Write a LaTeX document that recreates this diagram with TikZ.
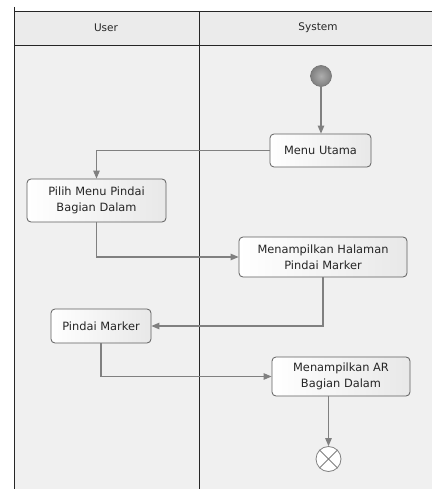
\documentclass[tikz,border=0pt]{standalone}
\usepackage{fontspec}
\setmainfont{DejaVu Sans}
\usetikzlibrary{arrows.meta,calc,positioning}
\definecolor{lanebg}{HTML}{F0F0F0}
\definecolor{headbg}{HTML}{EBEBEB}
\definecolor{linegray}{HTML}{808080}
\definecolor{boxedge}{HTML}{5E5E5E}
\definecolor{txt}{HTML}{262626}
\tikzset{
  action/.style={draw=boxedge, line width=0.8pt, rounded corners=4pt,
    left color=white, right color=black!9, align=center, text=txt,
    font=\fontsize{11.4}{16}\selectfont, inner sep=0pt, anchor=center},
  flow/.style={draw=linegray, line width=1.1pt,
    -{Triangle[length=8pt,width=6.5pt,fill=linegray]}},
  lanetitle/.style={text=txt, font=\fontsize{10.5}{12}\selectfont},
  border/.style={draw=black!85, line width=0.9pt}
}
\begin{document}
\begin{tikzpicture}[x=1pt,y=-1pt]
\useasboundingbox (0,0) rectangle (432,489);
\fill[white] (0,0) rectangle (432,489);
% lanes
\fill[lanebg] (14,11) rectangle (432,489);
\fill[headbg] (14,11) rectangle (432,45);
\draw[border] (14,7) -- (14,489);
\draw[border] (14,11) -- (432,11);
\draw[border] (14,45) -- (432,45);
\draw[border] (199,11) -- (199,489);
\node[lanetitle] (user) at (106,28) {User};
\node[lanetitle] (sys) at (318,28) {System};
% nodes
\node[circle, draw=black!55, inner color=black!32, outer color=black!50, line width=0.6pt, minimum size=21pt, inner sep=0pt] (start) at (321,76) {};
\node[action, minimum width=101pt, minimum height=33pt] (mu) at (320.5,150.5) {Menu Utama};
\node[action, minimum width=139pt, minimum height=43pt] (pilih) at (96.5,200.5) {Pilih Menu Pindai\\Bagian Dalam};
\node[action, minimum width=168pt, minimum height=40pt] (hal) at (323,257) {Menampilkan Halaman\\Pindai Marker};
\node[action, minimum width=100pt, minimum height=34pt] (pindai) at (101,326) {Pindai Marker};
\node[action, minimum width=138pt, minimum height=39pt] (ar) at (341,376.5) {Menampilkan AR\\Bagian Dalam};
\node[circle, draw=black!50, fill=white, line width=0.8pt, minimum size=25pt, inner sep=0pt] (end) at (328.5,459) {};
\draw[black!50, line width=0.8pt] (end.north west) -- (end.south east) (end.north east) -- (end.south west);
% connectors
\draw[flow] (start) -- (start |- mu.north);
\draw[flow] (mu.west) -| (pilih.north);
\draw[flow] (pilih.south) |- (hal.west);
\draw[flow] (hal.south) |- (pindai.east);
\draw[flow] (pindai.south) |- (ar.west);
\draw[flow] (end.north |- ar.south) -- (end.north);
\end{tikzpicture}
\end{document}
